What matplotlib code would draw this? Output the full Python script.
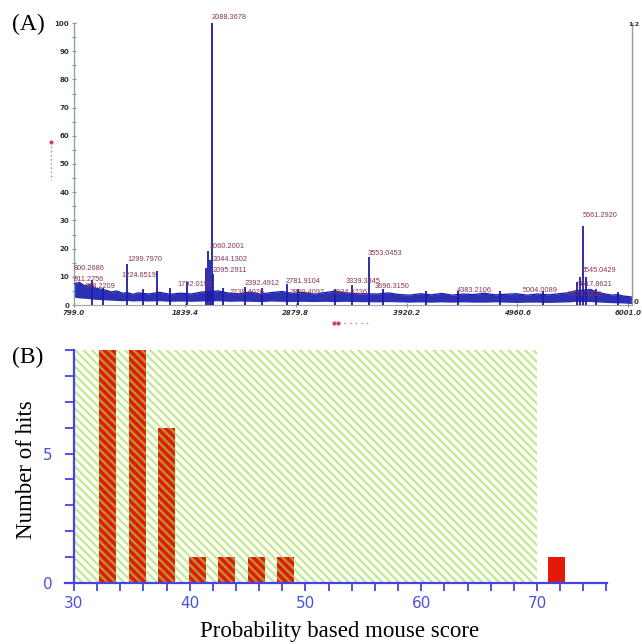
import matplotlib
matplotlib.use("Agg")
import matplotlib.pyplot as plt
from matplotlib.patches import Rectangle
from matplotlib.lines import Line2D
from matplotlib.ticker import MultipleLocator, FixedLocator

# ---------------- Panel A data (mass spectrum) ----------------
band_mz = [799, 850, 900, 950, 1000, 1050, 1100, 1150, 1200, 1250, 1300, 1350, 1400,
           1500, 1600, 1700, 1800, 1900, 2000, 2150, 2250, 2350, 2450, 2550, 2650,
           2750, 2850, 2950, 3050, 3150, 3250, 3350, 3450, 3650, 3750, 3850, 3950,
           4050, 4150, 4250, 4350, 4450, 4550, 4650, 4750, 4850, 4950, 5050, 5150,
           5250, 5350, 5450, 5500, 5650, 5700, 5750, 5800, 5850, 5900, 5950, 6000, 6036]
band_top = [7.5, 8.0, 6.8, 7.2, 6.0, 5.6, 5.2, 4.6, 5.0, 4.2, 4.4, 3.8, 4.3, 3.9, 4.5,
            3.8, 4.2, 3.9, 4.6, 5.0, 4.2, 4.0, 4.6, 3.9, 4.4, 4.8, 4.1, 4.5, 3.8, 4.4,
            4.9, 4.3, 4.0, 3.9, 4.3, 3.7, 3.5, 4.0, 3.6, 4.1, 3.5, 3.9, 3.7, 4.2, 3.6,
            3.8, 4.0, 3.5, 3.9, 3.6, 4.0, 4.4, 5.0, 5.5, 4.6, 4.2, 3.8, 3.5, 3.7, 3.2,
            3.0, 2.8]
band_bottom = [2.8, 2.5, 2.4, 2.2, 2.0, 1.9, 1.8, 1.7, 1.6, 1.5, 1.6, 1.4, 1.5, 1.4, 1.5,
               1.3, 1.4, 1.3, 1.4, 1.5, 1.3, 1.4, 1.3, 1.2, 1.4, 1.3, 1.2, 1.3, 1.2, 1.3,
               1.2, 1.3, 1.2, 1.1, 1.2, 1.1, 1.0, 1.1, 1.0, 1.1, 1.0, 1.1, 1.0, 1.0, 1.1,
               1.0, 0.9, 1.0, 1.0, 0.9, 1.0, 1.1, 1.3, 1.2, 1.1, 1.0, 0.9, 0.8, 0.8, 0.7,
               0.6, 0.5]

peak_mz = [968, 1070, 1296, 1450, 1578, 1700, 1860, 2040, 2060, 2072, 2097, 2108, 2200,
           2404, 2560, 2798, 2900, 3250, 3409, 3568, 3700, 4100, 4400, 4800, 5200,
           5520, 5550, 5577, 5600, 5700, 5900]
peak_int = [9, 6, 14.5, 5.5, 12, 6, 8, 13, 19, 16, 100, 11, 6,
            6.5, 6, 7.5, 5.5, 5.5, 7, 17, 5.5, 5, 5, 5, 5,
            8, 10, 28, 10, 5.5, 4.5]

label_text = ["2088.3678", "2060.2001", "1299.7970", "2044.1302", "800.2686",
              "2095.2911", "811.2756", "1224.6519", "1792.0193", "868.2209",
              "2392.4912", "2781.9104", "2830.4097", "2238.4026", "5661.2920",
              "3553.0453", "5545.0429", "3339.3845", "3696.3150", "4383.2106",
              "5004.0089", "5517.8621", "5473.3236", "3034.6236"]
label_mz = [2095, 2076, 1297, 2104, 799, 2104, 799, 1240, 1766, 902,
            2404, 2789, 2827, 2263, 5577, 3559, 5568, 3352, 3624, 4394,
            5014, 5530, 5436, 3230]
label_int = [101.8, 20.9, 16.3, 16.0, 13.1, 12.1, 9.2, 10.6, 7.1, 6.4,
             7.8, 8.2, 4.6, 4.3, 31.6, 18.1, 12.4, 8.2, 6.4, 5.0,
             5.3, 7.1, 3.9, 4.3]

a_xticks = [799.0, 1839.4, 2879.8, 3920.2, 4960.6, 6001.0]
a_yticks = [0, 10, 20, 30, 40, 50, 60, 70, 80, 90, 100]

# ---------------- Panel B data (histogram of scores) ----------------
score_bins = [32.9, 35.5, 38.0, 40.7, 43.2, 45.8, 48.3, 71.7]
hits = [9, 9, 6, 1, 1, 1, 1, 1]
threshold_region = [30, 70]
b_xticks = [30, 40, 50, 60, 70]
b_yticks = [0, 5]

# ---------------- Figure ----------------
W, H = 642, 644
fig = plt.figure(figsize=(W / 100, H / 100), dpi=100)
fig.patch.set_facecolor("white")

serif = ["Liberation Serif", "DejaVu Serif"]

# ---- Panel A ----
axA = fig.add_axes([74 / W, 1 - 305 / H, (632 - 74) / W, (305 - 23) / H])
axA.set_xlim(799, 6036)
axA.set_ylim(0, 100)
blue = "#1c1ca4"
axA.fill_between(band_mz, band_bottom, band_top, color="#2c30b4", lw=0, zorder=2)
axA.plot(band_mz, band_top, color=blue, lw=0.9, zorder=3)
axA.vlines(peak_mz, 0, peak_int, color=blue, lw=1.3, zorder=3)

for t, x, y in zip(label_text, label_mz, label_int):
    axA.text(x, y, t, fontsize=5.3, color="#8a3458", family="Liberation Sans",
             ha="left", va="center", clip_on=False, zorder=4)

axA.spines["top"].set_visible(False)
axA.spines["left"].set_color("#8aa69a")
axA.spines["left"].set_linewidth(1.0)
axA.spines["right"].set_color("#9a9a9a")
axA.spines["right"].set_linewidth(1.0)
axA.spines["bottom"].set_color("#a0a0b0")
axA.spines["bottom"].set_linewidth(0.8)
axA.yaxis.set_major_locator(FixedLocator(a_yticks))
axA.yaxis.set_minor_locator(MultipleLocator(5))
axA.set_yticklabels([str(v) for v in a_yticks])
axA.tick_params(axis="y", which="both", direction="inout", length=3, width=0.8,
                color="#7a9a8a", labelsize=5, pad=2)
for lab in axA.get_yticklabels():
    lab.set_fontweight("bold")
    lab.set_color("#333333")
axA.xaxis.set_major_locator(FixedLocator(a_xticks))
axA.set_xticklabels([f"{v:.1f}" for v in a_xticks])
axA.tick_params(axis="x", which="both", direction="inout", length=3, width=0.8,
                color="#8a8a9a", labelsize=5, pad=2)
for lab in axA.get_xticklabels():
    lab.set_fontweight("bold")
    lab.set_fontstyle("italic")
    lab.set_color("#333333")

fig.text(640 / W, 1 - 24 / H, "1.2", fontsize=4.6, fontweight="bold", color="#333333",
         ha="right", va="center")
fig.text(634 / W, 1 - 302 / H, "0", fontsize=5, fontweight="bold", color="#333333",
         ha="left", va="center")

# faint red axis-title marks
fig.add_artist(Line2D([51 / W, 51 / W], [1 - 142 / H, 1 - 180 / H], color="#e07090",
                      lw=1.0, ls=(0, (1, 2))))
fig.add_artist(Line2D([51 / W], [1 - 142 / H], marker="o", ms=2, color="#d04070", lw=0))
fig.add_artist(Line2D([333 / W, 372 / W], [1 - 323 / H, 1 - 323 / H], color="#e07090",
                      lw=1.0, ls=(0, (1, 3))))
fig.add_artist(Line2D([334 / W, 338 / W], [1 - 323 / H, 1 - 323 / H], marker="o", ms=2,
                      color="#d04070", lw=0))

fig.text(12 / W, 1 - 24 / H, "(A)", fontsize=17, family=serif, ha="left", va="center")

# ---- Panel B ----
axB = fig.add_axes([64.7 / W, 1 - 583 / H, (607 - 64.7) / W, (583 - 350) / H])
axB.set_xlim(29.2, 76.05)
axB.set_ylim(0, 9)
axB.bar(score_bins, hits, width=1.45, color="#e41a08", edgecolor="none", zorder=1)
plt.rcParams["hatch.linewidth"] = 1.7
axB.add_patch(Rectangle((threshold_region[0], 0), threshold_region[1] - threshold_region[0], 9,
                        facecolor="none", edgecolor=(0.62, 0.87, 0.30, 0.62),
                        hatch="\\\\\\\\", lw=0, zorder=2))

bcol = "#4444e4"
for s in ["top", "right"]:
    axB.spines[s].set_visible(False)
axB.spines["left"].set_position(("data", 30))
for s in ["left", "bottom"]:
    axB.spines[s].set_color(bcol)
    axB.spines[s].set_linewidth(1.6)
    axB.spines[s].set_zorder(5)
axB.xaxis.set_major_locator(FixedLocator(b_xticks))
axB.xaxis.set_minor_locator(MultipleLocator(2))
axB.yaxis.set_major_locator(FixedLocator(b_yticks))
axB.yaxis.set_minor_locator(MultipleLocator(1))
axB.set_xticklabels([str(v) for v in b_xticks])
axB.set_yticklabels([str(v) for v in b_yticks])
axB.tick_params(axis="x", which="both", direction="out", length=6, width=1.3,
                color=bcol, labelsize=11, labelcolor="#4a52dc", pad=3)
axB.tick_params(axis="y", which="both", direction="out", length=6.5, width=1.3,
                color=bcol, labelsize=11, labelcolor="#4a52dc", pad=9)

fig.text(12 / W, 1 - 357 / H, "(B)", fontsize=17, family=serif, ha="left", va="center")
fig.text(27 / W, 1 - 470 / H, "Number of hits", fontsize=16.5, family=serif,
         rotation=90, ha="center", va="center")
fig.text(340 / W, 1 - 632 / H, "Probability based mouse score", fontsize=16.5,
         family=serif, ha="center", va="center")

fig.savefig("out.png", dpi=100)
